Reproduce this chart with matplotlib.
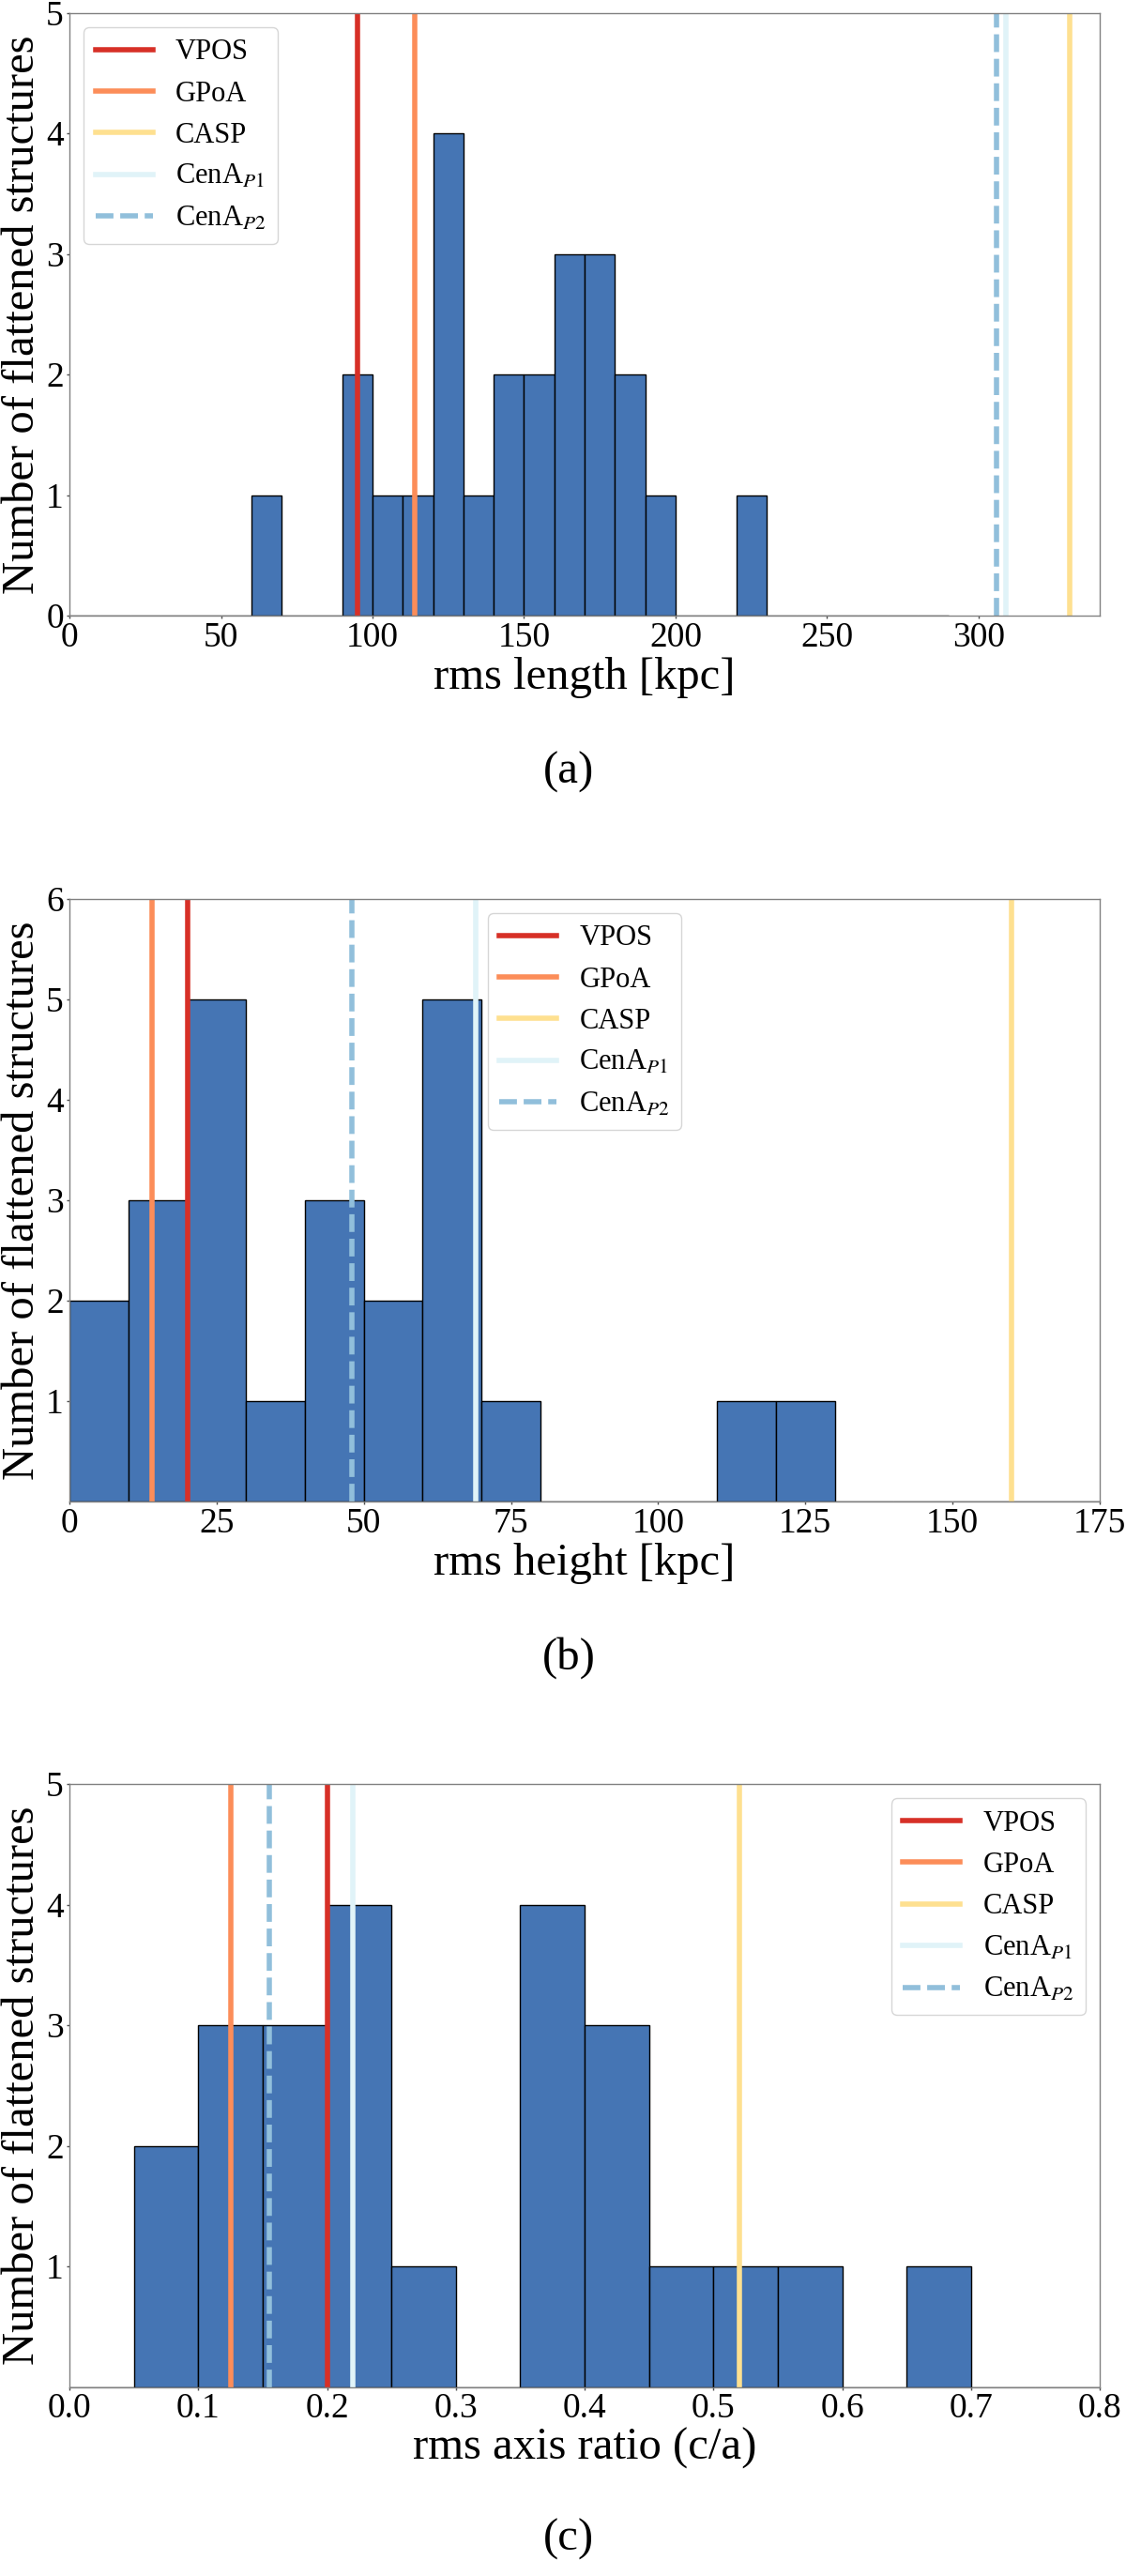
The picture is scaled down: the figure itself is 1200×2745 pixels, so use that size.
import matplotlib
matplotlib.use('Agg')
import matplotlib.pyplot as plt
import numpy as np

plt.rcParams['font.family'] = ['Liberation Serif', 'DejaVu Serif']
plt.rcParams['mathtext.fontset'] = 'stix'

# histogram counts, bins of 10 kpc / 0.05
length_edges = np.arange(0, 300, 10)
length_counts = [0, 0, 0, 0, 0, 0, 1, 0, 0, 2, 1, 1, 4, 1, 2, 2, 3, 3, 2, 1,
                 0, 0, 1, 0, 0, 0, 0, 0, 0]
height_edges = np.arange(0, 190, 10)
height_counts = [2, 3, 5, 1, 3, 2, 5, 1, 0, 0, 0, 1, 1, 0, 0, 0, 0, 0]
ratio_edges = np.linspace(0, 0.8, 17)
ratio_counts = [0, 2, 3, 3, 4, 1, 0, 4, 3, 1, 1, 1, 0, 1, 0, 0]

# observed planes
names = ['VPOS', 'GPoA', 'CASP', r'CenA$_{P1}$', r'CenA$_{P2}$']
length_obs = [95, 114, 330, 309, 306]
height_obs = [20, 14, 160, 69, 48]
ratio_obs = [0.20, 0.125, 0.52, 0.22, 0.155]

colors = ['#d73027', '#fc8d59', '#fee090', '#e0f3f8', '#91bfdb']
styles = ['-', '-', '-', '-', (0, (3.4, 1.3))]

length_ticks = np.arange(0, 301, 50)
height_ticks = np.arange(0, 176, 25)
ratio_ticks = np.arange(0, 0.81, 0.1)

panels = [
    (length_edges, length_counts, length_obs, 'rms length [kpc]', (0, 340), 5,
     [0, 1, 2, 3, 4, 5], length_ticks, '%d', 'upper left', '(a)'),
    (height_edges, height_counts, height_obs, 'rms height [kpc]', (0, 175), 6,
     [1, 2, 3, 4, 5, 6], height_ticks, '%d', 'upper center', '(b)'),
    (ratio_edges, ratio_counts, ratio_obs, 'rms axis ratio (c/a)', (0, 0.8), 5,
     [1, 2, 3, 4, 5], ratio_ticks, '%.1f', 'upper right', '(c)'),
]
axes_bottom = [0.761, 0.4171, 0.0734]
caption_y = [0.7002, 0.3563, 0.0142]

fig = plt.figure(figsize=(12, 27.45), dpi=100)
for k, (edges, counts, obs, xlabel, xlim, ymax, yticks, xticks, fmt, loc, cap) in enumerate(panels):
    ax = fig.add_axes([0.0617, axes_bottom[k], 0.915, 0.234])
    ax.hist(edges[:-1], bins=edges, weights=counts, color='#4575b4',
            edgecolor='black', linewidth=1.0)
    for name, val, c, ls in zip(names, obs, colors, styles):
        ax.axvline(val, color=c, lw=4, ls=ls, label=name)
    ax.set_xlim(*xlim)
    ax.set_ylim(0, ymax)
    ax.set_yticks(yticks)
    ax.set_xticks(xticks)
    ax.set_xticklabels([fmt % v for v in xticks])
    ax.tick_params(labelsize=27, length=2.5, width=1, color='0.3', pad=2)
    for sp in ax.spines.values():
        sp.set_color('0.5')
        sp.set_linewidth(1.0)
    ax.set_xlabel(xlabel, fontsize=35, labelpad=2)
    ax.set_ylabel('Number of flattened structures', fontsize=35, labelpad=2)
    ax.legend(loc=loc, fontsize=22)
    fig.text(0.505, caption_y[k], cap, ha='center', va='center', fontsize=35)

plt.savefig('out.png', dpi=100)
